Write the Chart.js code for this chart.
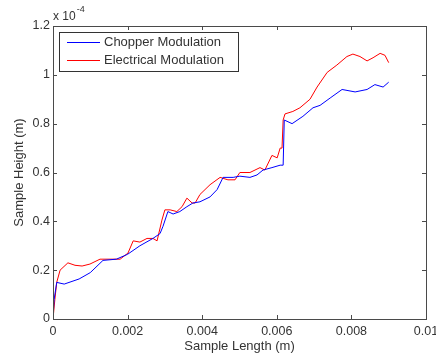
<!DOCTYPE html>
<html>
<head>
<meta charset="utf-8">
<script src="https://cdn.jsdelivr.net/npm/chart.js@4"></script>
<style>
  html, body { margin: 0; padding: 0; background: #fff; overflow: hidden; }
</style>
</head>
<body>
<canvas id="chart" width="436" height="358"></canvas>
<script>
// values: x in metres, y in units of 1e-4 m
const chopperX = [0, 0.00003, 0.0001, 0.0003, 0.0007, 0.001, 0.00134, 0.0017, 0.002, 0.00233,
  0.00268, 0.00287, 0.00295, 0.00308, 0.00322, 0.0034, 0.00359, 0.00375, 0.00394, 0.00421,
  0.0044, 0.00456, 0.00483, 0.00501, 0.00528, 0.00547, 0.00563, 0.00587, 0.00609, 0.00617,
  0.0062, 0.00641, 0.0067, 0.00697, 0.00716, 0.00743, 0.00775, 0.0081, 0.00842, 0.00863,
  0.00885, 0.009];
const chopperY = [0, 0.08, 0.15, 0.143, 0.164, 0.19, 0.24, 0.245, 0.265, 0.30,
  0.33, 0.35, 0.38, 0.44, 0.43, 0.44, 0.46, 0.475, 0.48, 0.50,
  0.53, 0.58, 0.58, 0.585, 0.58, 0.59, 0.61, 0.62, 0.63, 0.63,
  0.815, 0.80, 0.83, 0.865, 0.875, 0.905, 0.94, 0.93, 0.94, 0.96,
  0.95, 0.97];

const electricalX = [0, 0.00005, 0.0001, 0.00019, 0.0004, 0.00059, 0.00078, 0.00099, 0.00126, 0.00153,
  0.0018, 0.00201, 0.00215, 0.00233, 0.00252, 0.00268, 0.00279, 0.00292, 0.003, 0.00314,
  0.00332, 0.00346, 0.00359, 0.00373, 0.00381, 0.00394, 0.00421, 0.00448, 0.00469, 0.00488,
  0.00501, 0.00528, 0.00555, 0.00568, 0.00587, 0.00601, 0.00609, 0.00614, 0.00617, 0.00622,
  0.00643, 0.00662, 0.00689, 0.00708, 0.00735, 0.00761, 0.00788, 0.00804, 0.00823, 0.00842,
  0.00858, 0.00877, 0.0089, 0.009];
const electricalY = [0, 0.08, 0.15, 0.20, 0.23, 0.22, 0.217, 0.225, 0.245, 0.245,
  0.245, 0.27, 0.32, 0.315, 0.33, 0.33, 0.32, 0.405, 0.447, 0.447,
  0.44, 0.46, 0.495, 0.475, 0.475, 0.51, 0.55, 0.58, 0.57, 0.57,
  0.60, 0.60, 0.62, 0.61, 0.67, 0.66, 0.70, 0.70, 0.815, 0.84,
  0.85, 0.865, 0.90, 0.95, 1.01, 1.04, 1.075, 1.085, 1.075, 1.057,
  1.07, 1.088, 1.08, 1.05];

const seriesNames = ['Chopper Modulation', 'Electrical Modulation'];
const xTickLabels = ['0', '0.002', '0.004', '0.006', '0.008', '0.01'];
const yTickLabels = ['0', '0.2', '0.4', '0.6', '0.8', '1', '1.2'];

const axisColor = '#4a4a4a';
const textColor = '#333';
const fontFamily = '"Liberation Sans", Arial, sans-serif';

const toPoints = (xs, ys) => xs.map((x, i) => ({ x: x, y: ys[i] }));

// white background, MATLAB style box with inward ticks, legend and exponent
const matlabPlugin = {
  id: 'matlabAxes',
  beforeDraw(chart) {
    const ctx = chart.ctx;
    ctx.save();
    ctx.fillStyle = '#fff';
    ctx.fillRect(0, 0, chart.width, chart.height);
    ctx.restore();
  },
  afterDatasetsDraw(chart) {
    const { ctx, chartArea: a, scales } = chart;
    ctx.save();
    ctx.strokeStyle = axisColor;
    ctx.lineWidth = 1;
    ctx.strokeRect(a.left + 0.5, a.top + 0.5, a.right - a.left, a.bottom - a.top);

    const tick = 4;
    ctx.beginPath();
    scales.x.ticks.forEach(t => {
      const px = Math.round(scales.x.getPixelForValue(t.value)) + 0.5;
      ctx.moveTo(px, a.bottom);
      ctx.lineTo(px, a.bottom - tick);
      ctx.moveTo(px, a.top);
      ctx.lineTo(px, a.top + tick);
    });
    scales.y.ticks.forEach(t => {
      const py = Math.round(scales.y.getPixelForValue(t.value)) + 0.5;
      ctx.moveTo(a.left, py);
      ctx.lineTo(a.left + tick, py);
      ctx.moveTo(a.right, py);
      ctx.lineTo(a.right - tick, py);
    });
    ctx.stroke();

    // legend box in the upper left corner
    const lx = a.left + 6, ly = a.top + 6, lw = 179, lh = 39;
    ctx.fillStyle = '#fff';
    ctx.fillRect(lx, ly, lw, lh);
    ctx.strokeStyle = '#333';
    ctx.strokeRect(lx + 0.5, ly + 0.5, lw, lh);
    ctx.font = '13px ' + fontFamily;
    ctx.textBaseline = 'middle';
    chart.data.datasets.forEach((ds, i) => {
      const yy = ly + 10.5 + i * 18;
      ctx.strokeStyle = ds.borderColor;
      ctx.beginPath();
      ctx.moveTo(lx + 8, yy);
      ctx.lineTo(lx + 41, yy);
      ctx.stroke();
      ctx.fillStyle = textColor;
      ctx.fillText(ds.label, lx + 45, yy);
    });

    // exponent over the y axis
    ctx.fillStyle = textColor;
    ctx.textBaseline = 'alphabetic';
    ctx.font = '12px ' + fontFamily;
    ctx.fillText('x 10', a.left, 20);
    const w = ctx.measureText('x 10').width;
    ctx.font = '9px ' + fontFamily;
    ctx.fillText('-4', a.left + w + 1, 12);
    ctx.restore();
  }
};

new Chart(document.getElementById('chart'), {
  type: 'line',
  data: {
    datasets: [{
      label: seriesNames[0],
      data: toPoints(chopperX, chopperY),
      borderColor: '#0000ff',
      borderWidth: 1,
      pointRadius: 0,
      fill: false
    }, {
      label: seriesNames[1],
      data: toPoints(electricalX, electricalY),
      borderColor: '#ff0000',
      borderWidth: 1,
      pointRadius: 0,
      fill: false
    }]
  },
  options: {
    responsive: false,
    animation: false,
    layout: { padding: { top: 26, right: 10, left: 0, bottom: 0 } },
    plugins: { legend: { display: false }, tooltip: { enabled: false } },
    scales: {
      x: {
        type: 'linear',
        min: 0,
        max: 0.01,
        afterBuildTicks: s => { s.ticks = xTickLabels.map(l => ({ value: Number(l) })); },
        afterFit: s => { s.height = 39; s.paddingLeft = 0; s.paddingRight = 0; },
        grid: { display: false, drawTicks: false },
        border: { display: false },
        ticks: {
          autoSkip: false,
          maxRotation: 0,
          padding: 5,
          color: textColor,
          font: { family: fontFamily, size: 12.5 },
          callback: (v, i) => xTickLabels[i]
        },
        title: {
          display: true,
          text: 'Sample Length (m)',
          color: textColor,
          font: { family: fontFamily, size: 13 },
          padding: { top: 0, bottom: 4 }
        }
      },
      y: {
        type: 'linear',
        min: 0,
        max: 1.2,
        afterBuildTicks: s => { s.ticks = yTickLabels.map(l => ({ value: Number(l) })); },
        afterFit: s => { s.width = 53; s.paddingTop = 0; s.paddingBottom = 0; },
        grid: { display: false, drawTicks: false },
        border: { display: false },
        ticks: {
          autoSkip: false,
          padding: 3,
          color: textColor,
          font: { family: fontFamily, size: 12.5 },
          callback: (v, i) => yTickLabels[i]
        },
        title: {
          display: true,
          text: 'Sample Height (m)',
          color: textColor,
          font: { family: fontFamily, size: 13 },
          padding: { top: 12, bottom: 0 }
        }
      }
    }
  },
  plugins: [matlabPlugin]
});
</script>
</body>
</html>
